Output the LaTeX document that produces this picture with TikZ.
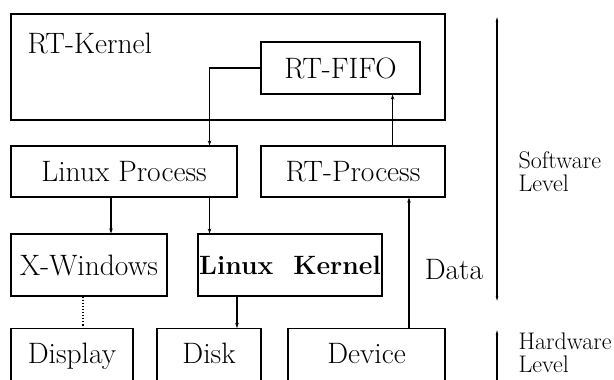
\documentclass[tikz,border=0pt]{standalone}
\usetikzlibrary{arrows.meta,calc}
\begin{document}
\begin{tikzpicture}[x=1pt,y=-1pt,
  line width=1.1pt,
  box/.style={draw,rectangle,inner sep=0pt,font=\fontsize{29.5}{33}\selectfont},
  lowbox/.style={box,anchor=north,text height=35pt,text depth=37pt},
  lbl/.style={inner sep=0pt,font=\fontsize{29.5}{33}\selectfont},
  lvl/.style={inner sep=0pt,anchor=north west,align=left,font=\fontsize{24}{23.5}\selectfont},
  arr/.style={-{Stealth[length=5pt,width=3.5pt]}},
  brk/.style={{Stealth[length=5pt,width=2.5pt]}-{Stealth[length=5pt,width=2.5pt]}}
]
\clip (0,0) rectangle (614,380);
\fill[white] (0,0) rectangle (614,380);
% boxes
\node[box,minimum width=434pt,minimum height=106pt] (rtk) at (228,67) {};
\node[lbl,anchor=base west] (rtkl) at (27,53) {RT-Kernel};
\node[box,minimum width=159pt,minimum height=52pt] (fifo) at (340.5,68) {RT-FIFO};
\node[box,minimum width=226pt,minimum height=51pt] (lp) at (124,171.5) {Linux Process};
\node[box,minimum width=184pt,minimum height=51pt] (rtp) at (353,171.5) {RT-Process};
\node[box,minimum width=156pt,minimum height=62pt] (xw) at (89,265) {X-Windows};
\node[box,minimum width=184pt,minimum height=62pt] (lk) at (290,265) {\fontsize{26.5}{30}\selectfont\bfseries Linux\ \ Kernel};
\node[lowbox,minimum width=122pt] (disp) at (72,328) {Display};
\node[lowbox,minimum width=104pt] (disk) at (209,328) {Disk};
\node[lowbox,minimum width=157pt] (dev) at (366.5,328) {Device};
\node[lbl] (data) at (454,270) {Data};
% level labels
\node[lvl] (sw) at (518,151) {Software\\Level};
\node[lvl] (hw) at (518,332) {Hardware\\Level};
% connectors
\draw[arr] (fifo.west) -| ([xshift=-28pt]lp.north east);
\draw[arr] ([xshift=-53pt]rtp.north east) -- ([xshift=-53pt]rtp.north east |- fifo.south);
\draw[arr] ([xshift=-13pt]lp.south) -- ([xshift=-13pt]lp.south |- xw.north);
\draw[arr] ([xshift=-28pt]lp.south east) -- ([xshift=-28pt]lp.south east |- lk.north);
\draw[dotted] ([xshift=-6pt]xw.south) -- ([xshift=-6pt]xw.south |- disp.north);
\draw[arr] ([xshift=-53pt]lk.south) -- ([xshift=-53pt]lk.south |- disk.north);
\draw[arr] ([xshift=42.5pt]dev.north) -- ([xshift=42.5pt]dev.north |- rtp.south);
% level brackets
\coordinate (swtop) at (497,17);
\coordinate (swbot) at (497,301);
\coordinate (hwtop) at (497,330);
\coordinate (hwbot) at (497,400);
\draw[brk] (swtop) -- (swbot);
\draw[brk] (hwtop) -- (hwbot);
\end{tikzpicture}
\end{document}
